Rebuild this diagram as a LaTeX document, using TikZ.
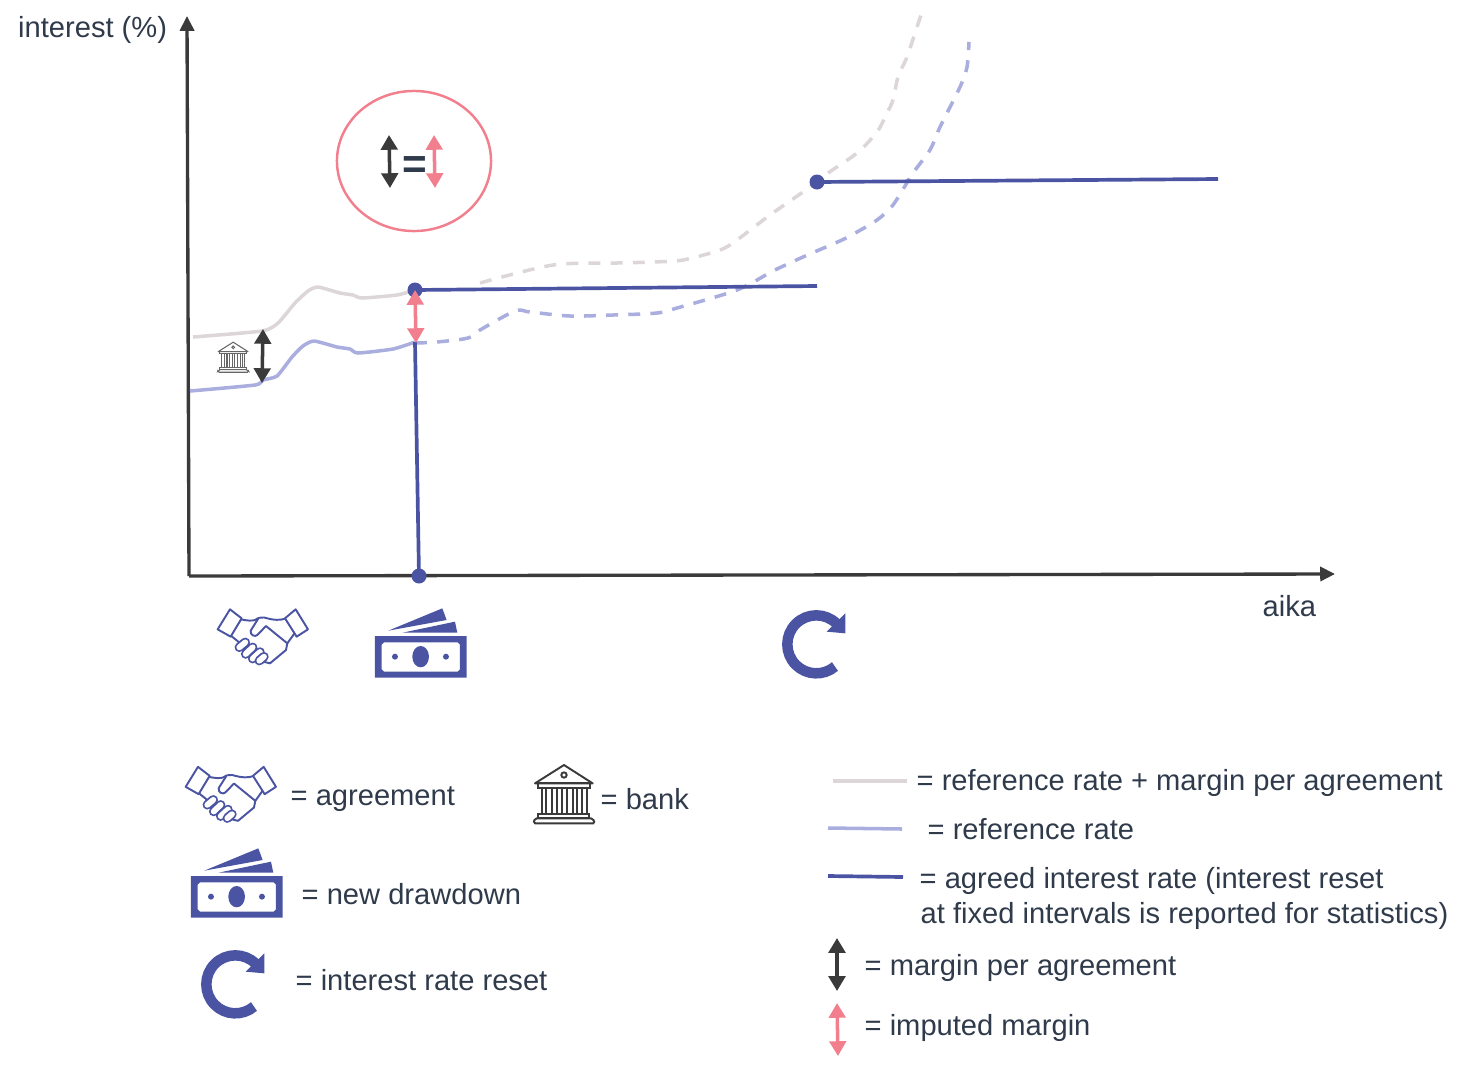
\documentclass[tikz,border=0pt]{standalone}
\usepackage{fontspec}
\setmainfont{Liberation Sans}
\usetikzlibrary{arrows.meta,shapes.geometric}
\definecolor{dkblue}{HTML}{4A54A3}
\definecolor{ltblue}{HTML}{A9AEDF}
\definecolor{refgray}{HTML}{DDD6D9}
\definecolor{pinkc}{HTML}{F27F8E}
\definecolor{axisc}{HTML}{3A3A3A}
\definecolor{textc}{HTML}{2F3A4A}
\tikzset{
  lbl/.style={anchor=base west,inner sep=0pt,text=textc,font=\fontsize{8.28}{10}\selectfont},
  refline/.style={refgray,line width=1pt,line join=round},
  baseline/.style={ltblue,line width=1pt,line join=round},
  refdash/.style={refline,dash pattern=on 3.4pt off 2.9pt},
  basedash/.style={baseline,dash pattern=on 3.4pt off 2.9pt},
  agreed/.style={dkblue,line width=1.05pt},
  axisline/.style={axisc,line width=0.95pt,-{Triangle[length=4.2pt,width=4pt]}},
  marginarrow/.style={axisc,line width=1pt,{Triangle[length=4.2pt,width=4.7pt]}-{Triangle[length=4.2pt,width=4.7pt]}},
  imparrow/.style={pinkc,line width=1pt,{Triangle[length=4.2pt,width=4.7pt]}-{Triangle[length=4.2pt,width=4.7pt]}},
  dotn/.style={circle,fill=dkblue,inner sep=0pt,minimum size=0.15cm},
  hand/.style={dkblue,line width=0.55pt,line join=round,line cap=round,fill=white},
}
\newcommand{\handicon}[2]{%
\begin{scope}[shift={(#1,#2)},scale=0.3333]
  \draw[hand] (183,88) .. controls (200,92) and (215,93) .. (225,90) .. controls (235,82) and (250,80) .. (262,85) .. controls (280,90) and (300,92) .. (318,85) -- (345,128) -- (322,160) -- (318,180) -- (300,195) -- (288,205) -- (270,220) -- (250,215) -- (175,155) -- (150,135) -- cycle;
  \draw[hand] (236,84) -- (212,122) .. controls (210,135) and (225,142) .. (232,135) -- (258,108) -- (322,160);
  \draw[hand] (150,58) -- (185,85) -- (152,140) -- (113,118) -- cycle;
  \draw[hand] (347,58) -- (384,118) -- (350,140) -- (315,85) -- cycle;
  \foreach \xa/\ya/\xb/\yb in {178/172/196/157,197/192/218/172,218/206/240/186,238/212/252/200} {
    \draw[dkblue,line width=0.095cm,line cap=round] (\xa,\ya) -- (\xb,\yb);
    \draw[white,line width=0.058cm,line cap=round] (\xa,\ya) -- (\xb,\yb);
  }
\end{scope}}
\newcommand{\moneyicon}[2]{%
\begin{scope}[shift={(#1,#2)},scale=0.3333]
  \fill[dkblue,even odd rule] (585,138) rectangle (860,263)
    (612,157) -- (833,157) -- (840,164) -- (840,238) -- (833,245) -- (612,245) -- (605,238) -- (605,164) -- cycle;
  \fill[dkblue] (722,200) ellipse [x radius=25,y radius=32];
  \fill[dkblue] (645,200) circle [radius=9];
  \fill[dkblue] (798,200) circle [radius=9];
  \fill[dkblue] (625,122) -- (787,55) -- (800,90) -- cycle;
  \fill[dkblue] (668,128) -- (825,95) -- (832,128) -- cycle;
\end{scope}}
\newcommand{\reseticon}[2]{%
\begin{scope}[shift={(#1,#2)},scale=0.3333]
  \draw[dkblue,line width=0.105cm] (139,133) ++(-45:87) arc[start angle=-45,end angle=-310,radius=87];
  \fill[dkblue] (226,40) -- (226,100) -- (170,95) -- cycle;
\end{scope}}
\newcommand{\bankicon}[4]{%
\begin{scope}[shift={(#1,#2)},scale=#3]
  \draw[#4,line join=round] (132,30) -- (45,85) -- (218,85) -- cycle;
  \draw[#4] (132,60) circle [radius=8];
  \draw[#4] (55,85) rectangle (210,98);
  \foreach \cx in {65,96,127,158,186}
    \draw[#4] (\cx,98) rectangle (\cx+14,178);
  \draw[#4] (55,178) rectangle (208,190);
  \draw[#4,rounded corners=0.5pt] (40,205) -- (45,190) -- (218,190) -- (225,205) -- cycle;
\end{scope}}
\begin{document}
\begin{tikzpicture}[x=0.01cm,y=-0.01cm]
\useasboundingbox (0,0) rectangle (1472,1072);
% axes
\coordinate (origin) at (189,576);
\coordinate (ytip) at (187,16);
\coordinate (xtip) at (1335,574);
\draw[axisline] (origin) -- (ytip);
\draw[axisline] (origin) -- (xtip);
\node[lbl] (ylabel) at (17.5,37) {interest (\%)};
\node[lbl] (xlabel) at (1262,616.5) {aika};
% reference rate + margin
\draw[refline] plot[smooth,tension=0.35] coordinates {(193,337) (262,331) (278,323) (295,303) (308,291) (318,287) (340,293) (353,295) (362,298) (397,295) (415,290)};
\draw[refdash] plot[smooth,tension=0.5] coordinates {(480,283) (553,265) (617,263) (653,262) (683,260) (720,250) (737,240) (770,215) (813,185) (828,173) (857,153) (877,132) (887,113) (893,100) (898,77) (907,57) (915,33) (921,15)};
% reference rate
\draw[baseline] plot[smooth,tension=0.35] coordinates {(190,391) (255,385) (263,380) (277,376) (292,357) (303,346) (314,341) (337,347) (350,349) (358,353) (393,349) (415,342)};
\draw[basedash] plot[smooth,tension=0.5] coordinates {(415,343) (437,342) (468,338) (480,330) (515,311) (530,312) (570,316) (613,315) (657,313) (677,308) (737,290) (773,271) (803,257) (842,240) (857,232) (877,220) (893,205) (913,173) (930,150) (940,127) (960,87) (967,67) (969,42)};
% agreed rate
\node[dotn] (d1) at (415,290) {};
\node[dotn] (d2) at (419,576) {};
\node[dotn] (d3) at (817,182) {};
\coordinate (e1) at (817,286);
\coordinate (e3) at (1218,179);
\draw[agreed] (d1.center) -- (e1);
\draw[agreed] (d3.center) -- (e3);
\coordinate (v1) at (415,342);
\draw[agreed] (v1) -- (d2.center);
% arrows in chart
\coordinate (m1) at (263,329); \coordinate (m2) at (262,383);
\draw[marginarrow] (m1) -- (m2);
\coordinate (i1) at (415,290); \coordinate (i2) at (416,343);
\draw[imparrow] (i1) -- (i2);
\bankicon{210.5}{337}{0.172}{black!60,line width=0.3pt}
% circle
\node[ellipse,draw=pinkc,line width=0.7pt,minimum width=1.54cm,minimum height=1.4cm,inner sep=0pt] (eqcircle) at (414,161) {};
\coordinate (c1) at (389,135); \coordinate (c2) at (390,188);
\coordinate (c3) at (434,135); \coordinate (c4) at (435,188);
\draw[marginarrow] (c1) -- (c2);
\draw[imparrow] (c3) -- (c4);
\node[text=textc,inner sep=0pt,font=\fontsize{12}{12}\selectfont\bfseries] (eqsign) at (415,167.5) {=};
% icons on axis
\handicon{180}{590}
\moneyicon{180}{590}
\reseticon{770}{600}
% legend icons
\handicon{148}{747.5}
\moneyicon{-4}{830}
\reseticon{189}{940}
\bankicon{520}{755}{0.3333}{axisc,line width=0.55pt}
% legend left
\node[lbl] (l1) at (290,805) {= agreement};
\node[lbl] (l2) at (600,809) {= bank};
\node[lbl] (l3) at (301,904) {= new drawdown};
\node[lbl] (l4) at (295,990) {= interest rate reset};
% legend right
\coordinate (a1) at (833,781); \coordinate (a2) at (907,781);
\coordinate (b1) at (828,828); \coordinate (b2) at (902,829);
\coordinate (f1) at (828,876); \coordinate (f2) at (903,877);
\draw[refline] (a1) -- (a2);
\draw[baseline] (b1) -- (b2);
\draw[agreed] (f1) -- (f2);
\node[lbl] (r1) at (916,790) {= reference rate + margin per agreement};
\node[lbl] (r2) at (927,839) {= reference rate};
\node[lbl] (r3) at (919,888) {= agreed interest rate (interest reset};
\node[lbl] (r4) at (920,923) {at fixed intervals is reported for statistics)};
\coordinate (g1) at (837,938); \coordinate (g2) at (837,991);
\coordinate (h1) at (837,1003); \coordinate (h2) at (838,1056);
\draw[marginarrow] (g1) -- (g2);
\draw[imparrow] (h1) -- (h2);
\node[lbl] (r5) at (864,975) {= margin per agreement};
\node[lbl] (r6) at (864,1035.5) {= imputed margin};
\end{tikzpicture}
\end{document}
